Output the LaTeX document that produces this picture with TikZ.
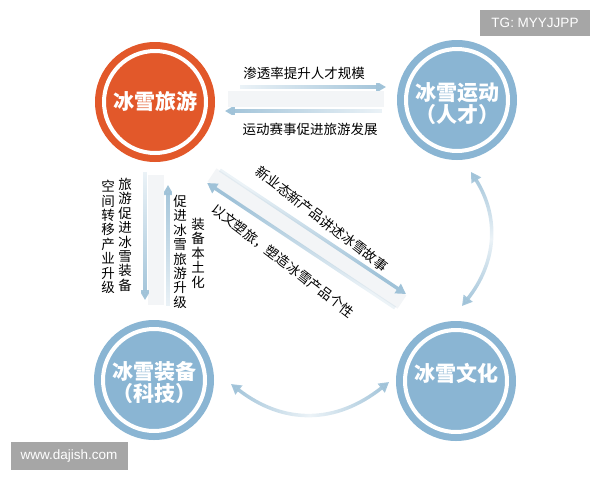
\documentclass[tikz,border=0pt]{standalone}
\usepackage{fontspec}
\setmainfont{Noto Sans CJK SC}
\newfontfamily\latinsans{Liberation Sans}
\usetikzlibrary{arrows.meta,fadings}

\definecolor{orng}{HTML}{E2582A}
\definecolor{iceblue}{HTML}{8AB5D3}
\definecolor{arrowblue}{HTML}{9FC2D8}
\definecolor{bandgray}{HTML}{F3F5F7}
\definecolor{wmgray}{HTML}{A6A6A6}

\tikzfading[name=tailfade, left color=transparent!80, right color=transparent!0]
\tikzfading[name=midfade, left color=transparent!0, right color=transparent!0, middle color=transparent!80]

\begin{document}
\begin{tikzpicture}[x=1pt,y=-1pt,
  hub/.style={circle, minimum size=120pt, inner sep=0pt,
    path picture={\draw[white, line width=4pt] (path picture bounding box.center) circle[radius=51pt];}},
  hubtxt/.style={text=white, font=\fontsize{21}{22}\selectfont\bfseries, align=center, inner sep=0pt},
  flow/.style={draw=arrowblue, line width=3.5pt, -{Triangle[length=10pt,width=11pt]}},
  flow2/.style={draw=arrowblue, line width=3.5pt, {Triangle[length=10pt,width=11pt]}-{Triangle[length=10pt,width=11pt]}},
  band/.style={draw=bandgray, line width=16pt},
  lbl/.style={font=\fontsize{13.5}{15}\selectfont, inner sep=0pt},
  vlbl/.style={font=\fontsize{13.5}{14.4}\selectfont, align=center, inner sep=0pt, anchor=north},
  wm/.style={fill=wmgray, text=white, font=\latinsans\fontsize{13.5}{15}\selectfont, inner sep=0pt}
]
\useasboundingbox (0,0) rectangle (600,480);

% hubs
\node[hub, fill=orng] (T) at (155,102) {};
\node[hub, fill=iceblue] (S) at (457,100) {};
\node[hub, fill=iceblue] (E) at (154,380) {};
\node[hub, fill=iceblue] (C) at (456,381) {};
\node[hubtxt] (Tt) at (155,101) {冰雪旅游};
\node[hubtxt] (St) at (457,104) {冰雪运动\\（人才）};
\node[hubtxt] (Et) at (154,383) {冰雪装备\\（科技）};
\node[hubtxt] (Ct) at (456,373) {冰雪文化};

% arrow end points
\coordinate (h1) at (240,87);  \coordinate (h2) at (386,87);
\coordinate (h3) at (382,111); \coordinate (h4) at (225,111);
\coordinate (v1) at (145,172); \coordinate (v2) at (145,300);
\coordinate (v3) at (168,306); \coordinate (v4) at (168,185);
\coordinate (d1) at (220,170); \coordinate (d2) at (406,294);
\coordinate (d3) at (395,308); \coordinate (d4) at (207,183);
\coordinate (r1) at (471,172); \coordinate (r2) at (462,306);
\coordinate (b1) at (231,384); \coordinate (b2) at (389,382);
\coordinate (bh1) at (228,99); \coordinate (bh2) at (384,99);
\coordinate (bv1) at (156,175); \coordinate (bv2) at (156,305);
\coordinate (bd1) at (212,175); \coordinate (bd2) at (402,302);

% faint bands
\draw[band] (bh1) -- (bh2);
\draw[band] (bv1) -- (bv2);
\draw[band] (bd1) -- (bd2);

% arrows
\draw[flow, path fading=tailfade] (h1) -- (h2);
\draw[flow, path fading=tailfade, fading angle=180] (h3) -- (h4);
\draw[flow, path fading=tailfade, fading angle=-90] (v1) -- (v2);
\draw[flow, path fading=tailfade, fading angle=90] (v3) -- (v4);
\draw[flow, path fading=tailfade, fading angle=-34] (d1) -- (d2);
\draw[flow, path fading=tailfade, fading angle=146] (d3) -- (d4);
\draw[flow2, path fading=midfade, fading angle=90] (r1) .. controls (500,218) and (496,263) .. (r2);
\draw[flow2, path fading=midfade] (b1) .. controls (284,425) and (336,424) .. (b2);

% labels
\node[lbl] (l1) at (304,73) {渗透率提升人才规模};
\node[lbl] (l2) at (310,129) {运动赛事促进旅游发展};
\node[vlbl] (l3) at (108,180) {空\\间\\转\\移\\产\\业\\升\\级};
\node[vlbl] (l4) at (125,178) {旅\\游\\促\\进\\冰\\雪\\装\\备};
\node[vlbl] (l5) at (180,195) {促\\进\\冰\\雪\\旅\\游\\升\\级};
\node[vlbl] (l6) at (198,218) {装\\备\\本\\土\\化};
\node[lbl, rotate=-37.5] (l7) at (322,219) {新业态新产品讲述冰雪故事};
\node[lbl, rotate=-37.5] (l8) at (283,261) {以文塑旅，塑造冰雪产品个性};

% watermarks
\node[wm, minimum width=110pt, minimum height=26pt] (w1) at (535,23) {TG: MYYJJPP};
\node[wm, minimum width=117pt, minimum height=28pt] (w2) at (69,456) {www.dajish.com};
\end{tikzpicture}
\end{document}
